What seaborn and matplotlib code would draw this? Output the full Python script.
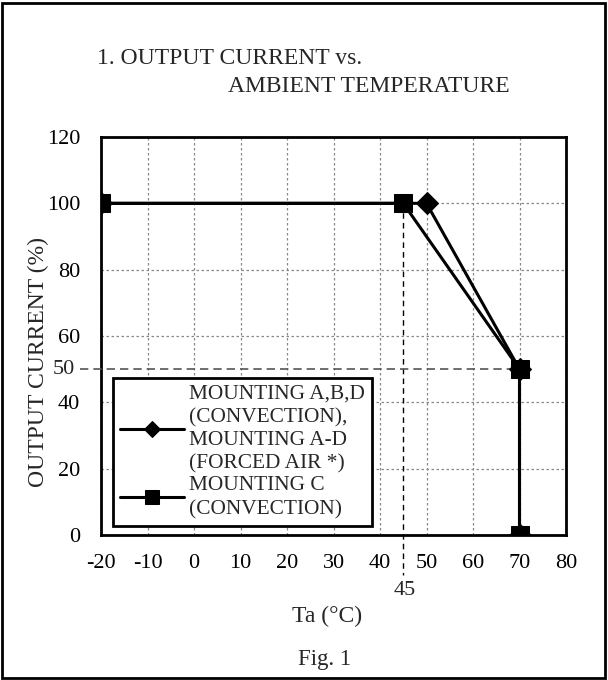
import matplotlib
matplotlib.use("Agg")
import matplotlib.pyplot as plt
import seaborn as sns
import pandas as pd
from matplotlib.patches import Rectangle

# Data
ta_abd = [-20, 50, 70, 70]
cur_abd = [100, 100, 50, 0]
ta_c = [-20, 45, 70, 70]
cur_c = [100, 100, 50, 0]
label_abd = "MOUNTING A,B,D\n(CONVECTION),\nMOUNTING A-D\n(FORCED AIR *)"
label_c = "MOUNTING C\n(CONVECTION)"
xticks = [-20, -10, 0, 10, 20, 30, 40, 50, 60, 70, 80]
yticks = [0, 20, 40, 60, 80, 100, 120]
mark_x = 45
mark_y = 50

sns.set_theme(style="white")
plt.rcParams['font.family'] = ['Liberation Serif', 'DejaVu Serif']

fig = plt.figure(figsize=(6.08, 6.8), dpi=100)
ax = fig.add_axes([101/608, 1-535/680, 465/608, 398/680])

df_abd = pd.DataFrame({"Ta": ta_abd, "I": cur_abd})
df_c = pd.DataFrame({"Ta": ta_c, "I": cur_c})

sns.lineplot(data=df_abd, x="Ta", y="I", sort=False, estimator=None, ax=ax,
             color="black", lw=2.2, marker="D", markersize=11, markeredgecolor="black",
             label=label_abd, zorder=4)
sns.lineplot(data=df_c, x="Ta", y="I", sort=False, estimator=None, ax=ax,
             color="black", lw=2.2, marker="s", markersize=12.5, markeredgecolor="black",
             label=label_c, zorder=5)

ax.set_xlim(-20, 80)
ax.set_ylim(0, 120)
ax.set_xticks(xticks)
ax.set_xticklabels([str(v) for v in xticks])
ax.set_yticks(yticks)
ax.set_yticklabels([str(v) for v in yticks])
ax.grid(True, color="#888888", linestyle=(0, (2, 2)), linewidth=0.9)
ax.tick_params(axis="both", labelsize=16, length=0, colors="black")
ax.tick_params(axis="y", pad=15)
ax.tick_params(axis="x", pad=14)
for s in ax.spines.values():
    s.set_color("black")
    s.set_linewidth(2)
ax.set_xlabel("")
ax.set_ylabel("")
fig.text(38/608, 1-362/680, "OUTPUT CURRENT (%)", fontsize=17, rotation=90,
         ha="center", va="center")

# reference dashed lines at 45 and 50
ax.plot([mark_x, mark_x], [100, -12], color="black", lw=1, ls=(0, (4, 3)),
        clip_on=False, zorder=3)
ax.plot([-24.5, 71.5], [mark_y, mark_y], color="#555555", lw=1.2, ls=(0, (5, 3)),
        clip_on=False, zorder=3)
ax.text(-25.5, mark_y, str(mark_y), ha="right", va="center", fontsize=16)
ax.text(mark_x + 0.3, -16.8, str(mark_x), ha="center", va="center", fontsize=16)

leg = ax.legend(loc="lower left", bbox_to_anchor=(0.026, 0.023), fontsize=15.4,
                frameon=True, fancybox=False, edgecolor="black", framealpha=1,
                handlelength=3.0, handletextpad=0.25, labelspacing=0.12,
                borderpad=0.32, borderaxespad=0)
leg.get_frame().set_linewidth(2)
for t in leg.get_texts():
    t.set_linespacing(1.3)
for h in leg.legend_handles:
    h.set_markersize(8 if h.get_marker() == "D" else 10)

fig.text(97/608, 1-59/680, "1. OUTPUT CURRENT vs.", fontsize=17, va="center")
fig.text(228/608, 1-86/680, "AMBIENT TEMPERATURE", fontsize=17, va="center")
fig.text(327/608, 1-616/680, "Ta (°C)", fontsize=17, ha="center", va="center")
fig.text(325/608, 1-660/680, "Fig. 1", fontsize=16.5, ha="center", va="center")

fig.patches.append(Rectangle((2/608, 2/680), 603/608, 675/680, transform=fig.transFigure,
                             fill=False, edgecolor="black", lw=2))

fig.savefig("out.png", dpi=100)
